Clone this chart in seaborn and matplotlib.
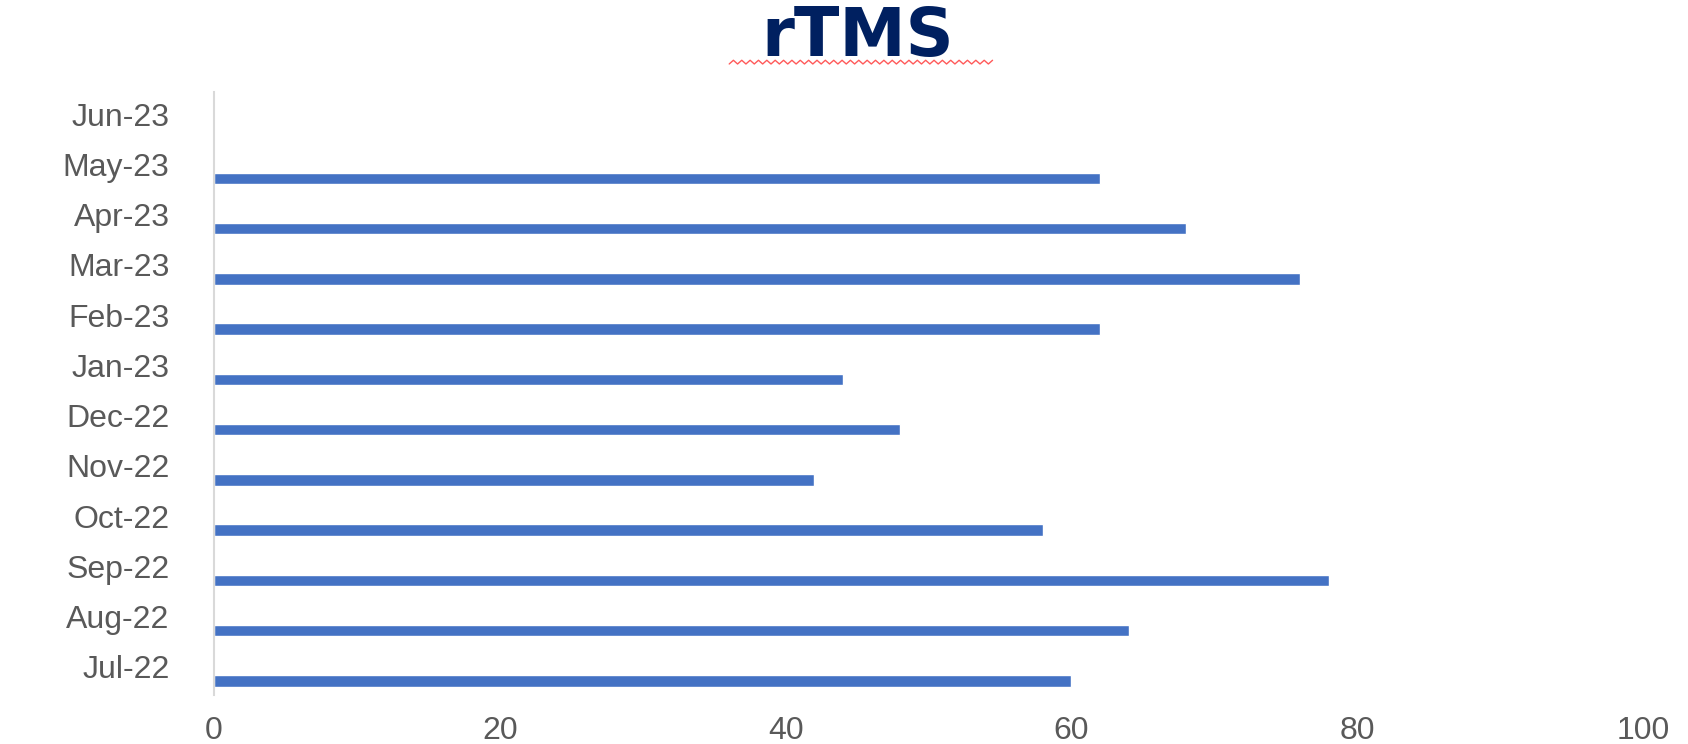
import numpy as np
import pandas as pd
import matplotlib
matplotlib.use("Agg")
import matplotlib.pyplot as plt
from matplotlib.transforms import ScaledTranslation
from matplotlib.lines import Line2D
import seaborn as sns

# ---- data ----
months = ["Jun-23", "May-23", "Apr-23", "Mar-23", "Feb-23", "Jan-23",
          "Dec-22", "Nov-22", "Oct-22", "Sep-22", "Aug-22", "Jul-22"]
values = [np.nan, 62, 68, 76, 62, 44, 48, 42, 58, 78, 64, 60]
x_ticks = [0, 20, 40, 60, 80, 100]
title = "rTMS"

df = pd.DataFrame({"month": months, "value": values})

sns.set_theme(style="white")
plt.rcParams["font.family"] = ["Liberation Sans", "DejaVu Sans"]

fig = plt.figure(figsize=(16.88, 7.44), dpi=100)
ax = fig.add_axes([0.1268, 0.0659, 0.8465, 0.8104])

sns.barplot(data=df, x="value", y="month", order=months, orient="h",
            color="#4472C4", saturation=1, width=0.23, ax=ax, errorbar=None)

ax.set_xlim(0, 100)
ax.set_xticks(x_ticks)
ax.set_ylim(len(months) - 1 + 0.28, -0.72)
ax.set_xlabel("")
ax.set_ylabel("")

for s in ["top", "right", "bottom"]:
    ax.spines[s].set_visible(False)
ax.spines["left"].set_color("#d9d9d9")
ax.spines["left"].set_linewidth(1.5)

ax.tick_params(axis="y", length=0, pad=32, labelsize=23, labelcolor="#595959")
ax.tick_params(axis="x", length=0, pad=15, labelsize=23, labelcolor="#595959")

# labels sit at slot centres, bars slightly below
offset = ScaledTranslation(0, 0.14, fig.dpi_scale_trans)
for lab in ax.get_yticklabels():
    lab.set_transform(lab.get_transform() + offset)

fig.text(0.508, 0.925, title, ha="center", va="baseline", fontsize=48,
         fontweight="bold", color="#002060", family=["DejaVu Sans"])

# spell-check style wavy underline under the title
zx = np.linspace(0.432, 0.588, 64)
zy = 0.914 + 0.005 * (np.arange(64) % 2)
fig.add_artist(Line2D(zx, zy, transform=fig.transFigure, color="#ff5a5a", lw=1.0))

fig.savefig("out.png", dpi=100)
